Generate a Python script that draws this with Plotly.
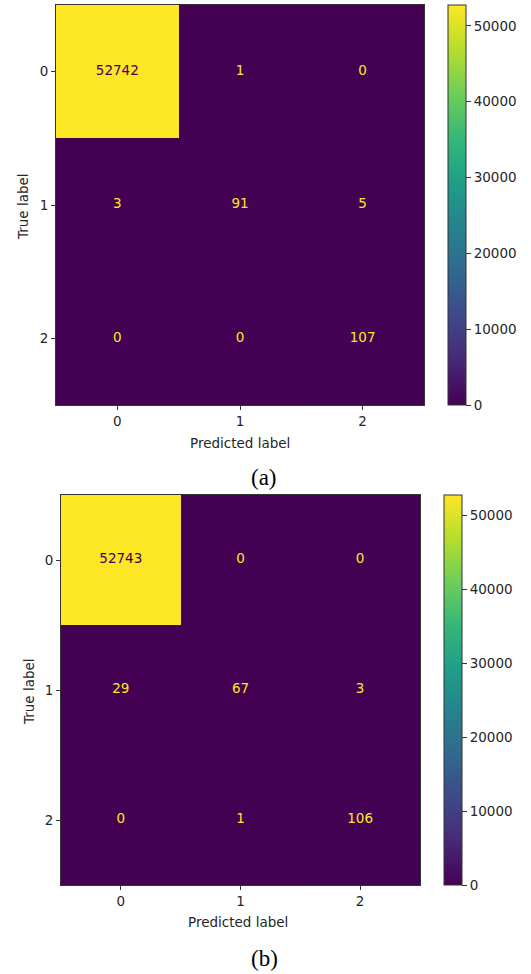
import plotly.graph_objects as go

# ---- data ----
classes = ["0", "1", "2"]
cm_a = [[52742, 1, 0],
        [3, 91, 5],
        [0, 0, 107]]
cm_b = [[52743, 0, 0],
        [29, 67, 3],
        [0, 1, 106]]
cbar_ticks = [0, 10000, 20000, 30000, 40000, 50000]
cbar_ticktext = ["0", "10000", "20000", "30000", "40000", "50000"]
panel_labels = ["(a)", "(b)"]

W, H = 531, 974
FONT = "DejaVu Sans"
TXT = "#262626"
LINE = "#333333"
DARK = "#440154"
BRIGHT = "#fde725"


def px(x):
    return x / W


def py(y):
    return 1 - y / H


fig = go.Figure()

panels = [
    dict(cm=cm_a, x0=56, x1=424, y0=5, y1=405, cbx=448, label=panel_labels[0],
         xl=240, xly=443, lab_y=477, tl_x=23, xa="x", ya="y"),
    dict(cm=cm_b, x0=61, x1=420, y0=495, y1=885, cbx=444, label=panel_labels[1],
         xl=238, xly=922, lab_y=958, tl_x=29, xa="x2", ya="y2"),
]

annotations = []
for i, p in enumerate(panels):
    cm = p["cm"]
    vmax = max(max(r) for r in cm)
    vmin = min(min(r) for r in cm)
    idx = list(range(len(classes)))
    fig.add_trace(go.Heatmap(
        z=cm, x=idx, y=idx, xaxis=p["xa"], yaxis=p["ya"],
        colorscale="Viridis", zmin=vmin, zmax=vmax, hoverinfo="skip",
        colorbar=dict(
            x=px(p["cbx"]), xanchor="left", xpad=0, ypad=0,
            y=py((p["y0"] + p["y1"]) / 2), yanchor="middle",
            len=p["y1"] - p["y0"], lenmode="pixels", thickness=18,
            outlinewidth=1, outlinecolor=LINE,
            tickvals=cbar_ticks, ticktext=cbar_ticktext,
            ticks="outside", ticklen=5, tickcolor=LINE,
            tickfont=dict(family=FONT, size=13.5, color=TXT),
        ),
    ))
    # cell texts
    tx, ty, tt, tc = [], [], [], []
    thresh = (vmax + vmin) / 2
    for r in idx:
        for c in idx:
            tx.append(c)
            ty.append(r)
            tt.append(str(cm[r][c]))
            tc.append(DARK if cm[r][c] > thresh else BRIGHT)
    fig.add_trace(go.Scatter(
        x=tx, y=ty, text=tt, mode="text", xaxis=p["xa"], yaxis=p["ya"],
        textfont=dict(family=FONT, size=13.5, color=tc),
        showlegend=False, hoverinfo="skip",
    ))
    sfx = "" if i == 0 else str(i + 1)
    axcommon = dict(showgrid=False, zeroline=False, showline=True, mirror=True,
                    linecolor=LINE, linewidth=1, ticks="outside", ticklen=4,
                    tickcolor=LINE, tickfont=dict(family=FONT, size=13.5, color=TXT),
                    tickvals=idx, ticktext=classes)
    fig.update_layout(**{
        "xaxis" + sfx: dict(domain=[px(p["x0"]), px(p["x1"])], range=[-0.5, 2.5],
                            anchor="y" + sfx, **axcommon),
        "yaxis" + sfx: dict(domain=[py(p["y1"]), py(p["y0"])], range=[2.5, -0.5],
                            anchor="x" + sfx, **axcommon),
    })
    annotations += [
        dict(text="Predicted label", x=px(p["xl"]), y=py(p["xly"]), xref="paper", yref="paper",
             showarrow=False, xanchor="center", yanchor="middle",
             font=dict(family=FONT, size=13.5, color=TXT)),
        dict(text="True label", x=px(p["tl_x"]), y=py((p["y0"] + p["y1"]) / 2 + 2),
             xref="paper", yref="paper", textangle=-90,
             showarrow=False, xanchor="center", yanchor="middle",
             font=dict(family=FONT, size=13.5, color=TXT)),
        dict(text=p["label"], x=px(264), y=py(p["lab_y"]), xref="paper", yref="paper",
             showarrow=False, xanchor="center", yanchor="middle",
             font=dict(family="Liberation Serif", size=23, color="#000")),
    ]

fig.update_layout(
    width=W, height=H, margin=dict(l=0, r=0, t=0, b=0),
    paper_bgcolor="white", plot_bgcolor="white",
    showlegend=False, annotations=annotations,
)

fig.write_html("out.html")
